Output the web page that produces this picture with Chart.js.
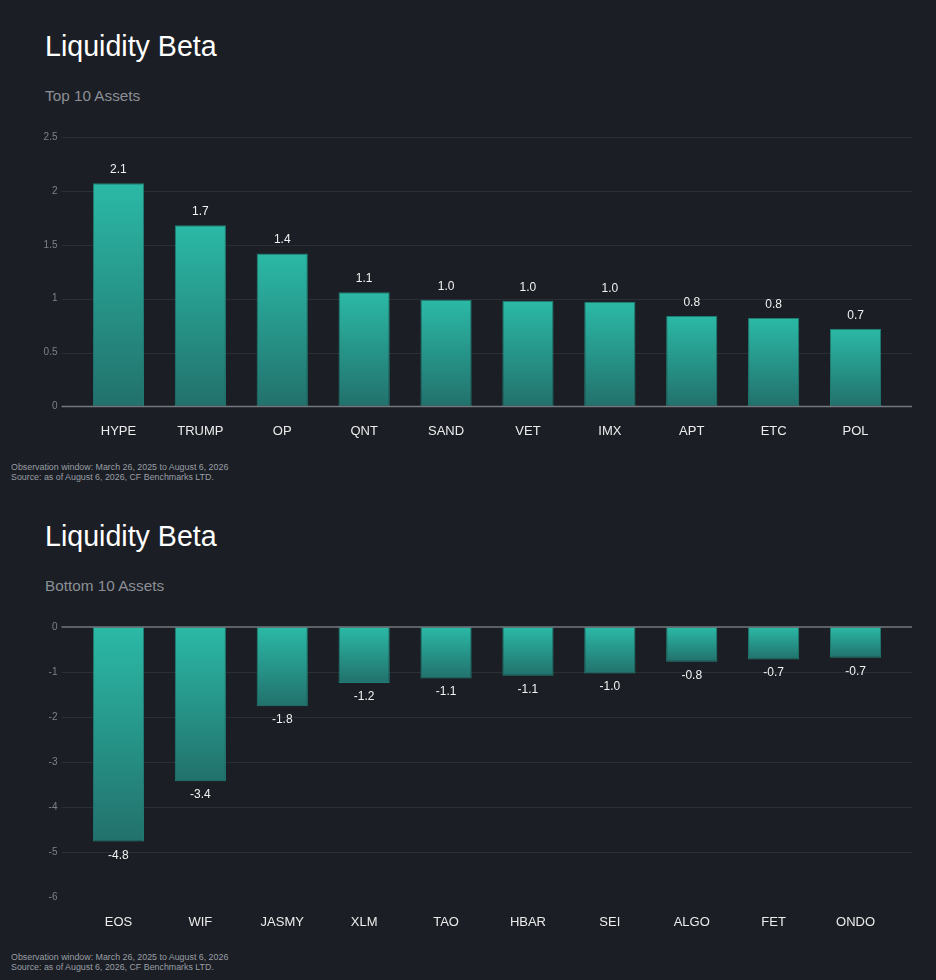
<!DOCTYPE html>
<html>
<head>
<meta charset="utf-8">
<title>Liquidity Beta</title>
<script src="https://cdn.jsdelivr.net/npm/chart.js@4.4.1/dist/chart.umd.min.js"></script>
<style>
  html, body { margin: 0; padding: 0; background: #1b1e24; }
  body { width: 936px; height: 980px; position: relative; overflow: hidden;
         font-family: "Liberation Sans", Arial, Helvetica, sans-serif; }
  .title { position: absolute; left: 45px; font-size: 28.6px; line-height: 28px; color: #ffffff; white-space: nowrap; }
  .sub { position: absolute; left: 45px; font-size: 15.3px; line-height: 15px; color: #8b9097; white-space: nowrap; }
  .note { position: absolute; left: 11px; font-size: 8.85px; line-height: 10px; color: #9a9ea6; white-space: nowrap; }
  canvas { position: absolute; left: 0; }
</style>
</head>
<body>

<div class="title" style="top:32px">Liquidity Beta</div>
<div class="sub" style="top:88px">Top 10 Assets</div>
<canvas id="topChart" width="936" height="323" style="top:120px"></canvas>
<div class="note" style="top:462px">Observation window: March 26, 2025 to August 6, 2026<br>Source: as of August 6, 2026, CF Benchmarks LTD.</div>

<div class="title" style="top:522px">Liquidity Beta</div>
<div class="sub" style="top:578px">Bottom 10 Assets</div>
<canvas id="bottomChart" width="936" height="324" style="top:610px"></canvas>
<div class="note" style="top:952px">Observation window: March 26, 2025 to August 6, 2026<br>Source: as of August 6, 2026, CF Benchmarks LTD.</div>

<script>
// chart data
const topAssets = ['HYPE', 'TRUMP', 'OP', 'QNT', 'SAND', 'VET', 'IMX', 'APT', 'ETC', 'POL'];
const topBeta = [2.07, 1.68, 1.42, 1.06, 0.99, 0.98, 0.97, 0.84, 0.82, 0.72];
const topTicks = [0, 0.5, 1, 1.5, 2, 2.5];

const bottomAssets = ['EOS', 'WIF', 'JASMY', 'XLM', 'TAO', 'HBAR', 'SEI', 'ALGO', 'FET', 'ONDO'];
const bottomBeta = [-4.76, -3.42, -1.76, -1.24, -1.14, -1.08, -1.03, -0.77, -0.72, -0.68];
const bottomTicks = [-6, -5, -4, -3, -2, -1, 0];

const FONT = '"Liberation Sans", Arial, Helvetica, sans-serif';
Chart.defaults.font.family = FONT;

// gridlines that run a little past the bars on both sides
const wideGrid = {
    id: 'wideGrid',
    beforeDatasetsDraw(chart, args, opts) {
        const { ctx, chartArea, scales: { y } } = chart;
        ctx.save();
        y.ticks.forEach(t => {
            if (t.value === 0 || opts.skip.includes(t.value)) return;
            const py = Math.round(y.getPixelForValue(t.value)) + 0.5;
            ctx.strokeStyle = '#2a2e35';
            ctx.lineWidth = 1;
            ctx.beginPath();
            ctx.moveTo(chartArea.left - 16, py);
            ctx.lineTo(chartArea.right + 15.5, py);
            ctx.stroke();
        });
        ctx.restore();
    },
    afterDatasetsDraw(chart) {
        // zero line on top of the bars
        const { ctx, chartArea, scales: { y } } = chart;
        const py = y.getPixelForValue(0);
        ctx.save();
        ctx.strokeStyle = '#73777e';
        ctx.lineWidth = 1.5;
        ctx.beginPath();
        ctx.moveTo(chartArea.left - 16, py);
        ctx.lineTo(chartArea.right + 15.5, py);
        ctx.stroke();
        ctx.restore();
    }
};

// value labels past the end of each bar
const valueLabels = {
    id: 'valueLabels',
    afterDatasetsDraw(chart) {
        const ctx = chart.ctx;
        const meta = chart.getDatasetMeta(0);
        const data = chart.data.datasets[0].data;
        ctx.save();
        ctx.font = '12px ' + FONT;
        ctx.fillStyle = '#f2f2f2';
        ctx.textAlign = 'center';
        ctx.textBaseline = 'alphabetic';
        meta.data.forEach((bar, i) => {
            const v = data[i];
            const ty = v >= 0 ? bar.y - 10 : bar.y + 17;
            ctx.fillText(v.toFixed(1), bar.x, ty);
        });
        ctx.restore();
    }
};

function barGradient(context) {
    const chart = context.chart;
    const y = chart.scales.y;
    if (context.type !== 'data' || !y) return '#27a594';
    const p0 = y.getPixelForValue(0);
    const p1 = y.getPixelForValue(context.raw);
    if (!isFinite(p0) || !isFinite(p1)) return '#27a594';
    const top = Math.min(p0, p1), bot = Math.max(p0, p1);
    const g = chart.ctx.createLinearGradient(0, top, 0, bot + 0.01);
    g.addColorStop(0, '#2bb9a6');
    g.addColorStop(1, '#22716c');
    return g;
}

function renderBars(id, labels, values, ticks, skipGrid) {
    const ctx = document.getElementById(id).getContext('2d');
    return new Chart(ctx, {
        type: 'bar',
        data: {
            labels: labels,
            datasets: [{
                data: values,
                backgroundColor: barGradient,
                borderColor: '#1f7e73',
                borderWidth: 1,
                borderSkipped: false,
                barPercentage: 0.625,
                categoryPercentage: 1,
            }]
        },
        options: {
            responsive: false,
            animation: false,
            layout: {
                padding: { top: 17, right: 39.5, left: 0, bottom: 0 }
            },
            scales: {
                x: {
                    grid: { display: false, drawTicks: true, tickLength: 13 },
                    border: { display: false },
                    ticks: { color: '#ececec', font: { size: 13 }, padding: 4, maxRotation: 0 }
                },
                y: {
                    min: ticks[0],
                    max: ticks[ticks.length - 1],
                    afterBuildTicks: s => { s.ticks = ticks.map(v => ({ value: v })); },
                    afterFit: s => { s.width = 77.5; },
                    grid: { display: false, drawTicks: true, tickLength: 16 },
                    border: { display: false },
                    ticks: {
                        color: '#7d828a',
                        font: { size: 10 },
                        padding: 4,
                        callback: v => String(v)
                    }
                }
            },
            plugins: {
                legend: { display: false },
                tooltip: { enabled: false },
                wideGrid: { skip: skipGrid }
            }
        },
        plugins: [wideGrid, valueLabels]
    });
}

window.addEventListener('DOMContentLoaded', () => {
    renderBars('topChart', topAssets, topBeta, topTicks, []);
    renderBars('bottomChart', bottomAssets, bottomBeta, bottomTicks, [-6]);
});
</script>
</body>
</html>
